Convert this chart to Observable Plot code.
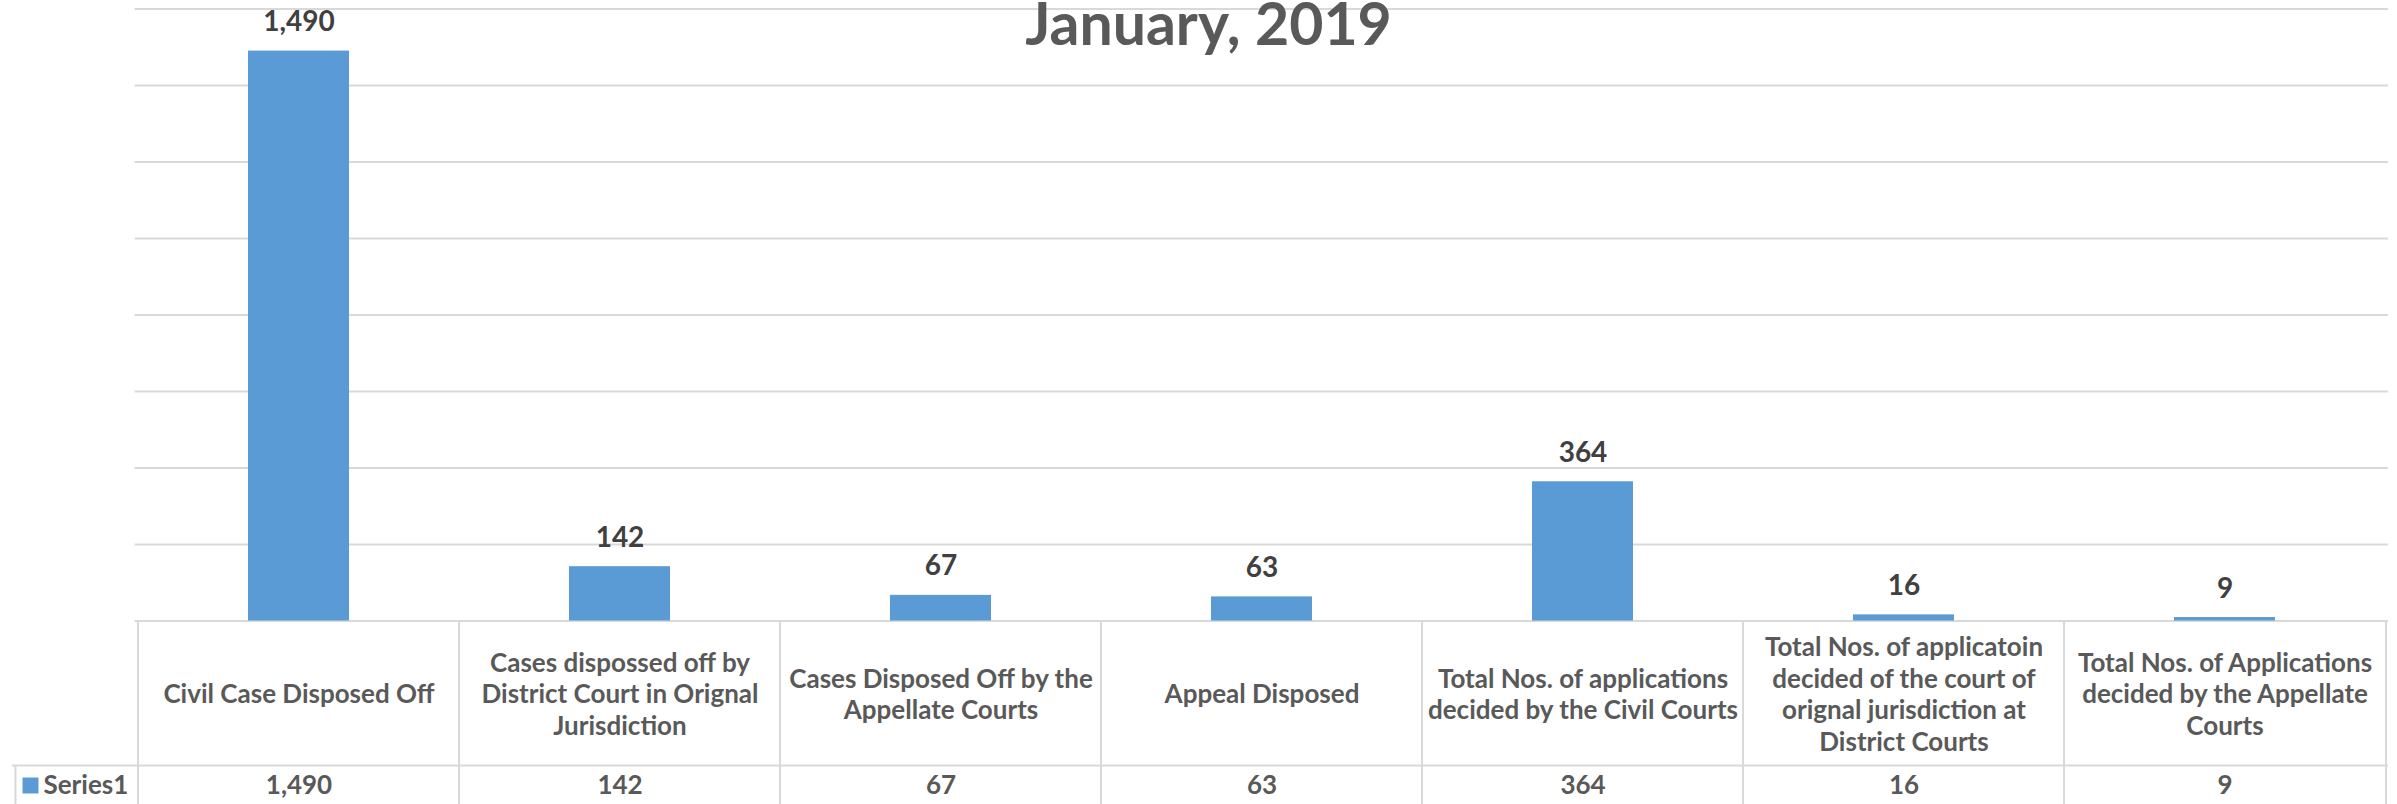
<!DOCTYPE html>
<html><head><meta charset="utf-8">
<script src="https://cdn.jsdelivr.net/npm/d3@7"></script>
<script src="https://cdn.jsdelivr.net/npm/@observablehq/plot@0.6"></script>
<style>body{margin:0;background:#fff}</style>
</head><body><div id="chart"></div>
<script>
const title = "January, 2019";
const seriesName = "Series1";
const categories = [
  "Civil Case Disposed Off",
  "Cases dispossed off by\nDistrict Court in Orignal\nJurisdiction",
  "Cases Disposed Off by the\nAppellate Courts",
  "Appeal Disposed",
  "Total Nos. of applications\ndecided by the Civil Courts",
  "Total Nos. of applicatoin\ndecided of the court of\norignal jurisdiction at\nDistrict Courts",
  "Total Nos. of Applications\ndecided by the Appellate\nCourts"
];
const values = [1490, 142, 67, 63, 364, 16, 9];
const yTicks = [0, 200, 400, 600, 800, 1000, 1200, 1400, 1600];

const data = categories.map((c, i) => ({category: c, value: values[i]}));
const W = 2397, H = 804, ml = 134.6, mr = 9, mt = 8.5, mb = 183.5;
const frameW = W - ml - mr, frameH = H - mt - mb, step = frameW / categories.length;
const headerH = 144.5;
const valueRowDy = 164.5;
const fmt = d3.format(",");
const grid = "#D9D9D9";
const textGray = "#595959";
const blue = "#5B9BD5";
const lineStyle = {stroke: grid, strokeWidth: 2, strokeOpacity: 1};

const chart = Plot.plot({
  width: W, height: H,
  marginLeft: ml, marginRight: mr, marginTop: mt, marginBottom: mb,
  style: {fontFamily: "Lato, 'Open Sans', sans-serif", background: "#fff"},
  x: {domain: categories, paddingInner: 0.686, paddingOuter: 0.343, axis: null},
  y: {domain: [0, 1600], axis: null},
  marks: [
    Plot.ruleY(yTicks, lineStyle),
    Plot.text([title], {text: d => d, frameAnchor: "top", dx: 1208 - (ml + frameW / 2), dy: 36,
      lineAnchor: "bottom", fontSize: 59, fontWeight: "bold", fill: textGray}),
    Plot.barY(data, {x: "category", y: "value", fill: blue}),
    Plot.text(data, {x: "category", y: "value", text: d => fmt(d.value), dy: -20, lineAnchor: "bottom",
      fontSize: 28, fontWeight: "bold", fill: "#404040"}),
    // data table
    Plot.ruleX(categories, {x: d => d, dx: -step / 2, insetTop: frameH, insetBottom: -mb, ...lineStyle}),
    Plot.ruleX(categories.slice(-1), {x: d => d, dx: step / 2, insetTop: frameH, insetBottom: -mb, ...lineStyle}),
    Plot.ruleX(categories.slice(0, 1), {x: d => d, dx: -step / 2 - (ml - 12), insetTop: frameH + headerH, insetBottom: -mb, ...lineStyle}),
    Plot.ruleY([0], {dy: headerH, insetLeft: -(ml - 12), ...lineStyle}),
    Plot.text(categories, {x: d => d, text: d => d, frameAnchor: "bottom", dy: headerH / 2, lineAnchor: "middle",
      lineHeight: 1.23, fontSize: 26, fontWeight: "bold", fill: textGray}),
    Plot.text(data, {x: "category", text: d => fmt(d.value), frameAnchor: "bottom", dy: valueRowDy, lineAnchor: "middle",
      fontSize: 26, fontWeight: "bold", fill: textGray}),
    Plot.dot([seriesName], {frameAnchor: "bottom-left", dx: 30 - ml, dy: valueRowDy, symbol: "square", r: 9, fill: blue}),
    Plot.text([seriesName], {text: d => d, frameAnchor: "bottom-left", dx: 43 - ml, dy: valueRowDy, textAnchor: "start",
      lineAnchor: "middle", fontSize: 26, fontWeight: "bold", fill: textGray})
  ]
});
document.getElementById("chart").append(chart);
</script>
</body></html>
